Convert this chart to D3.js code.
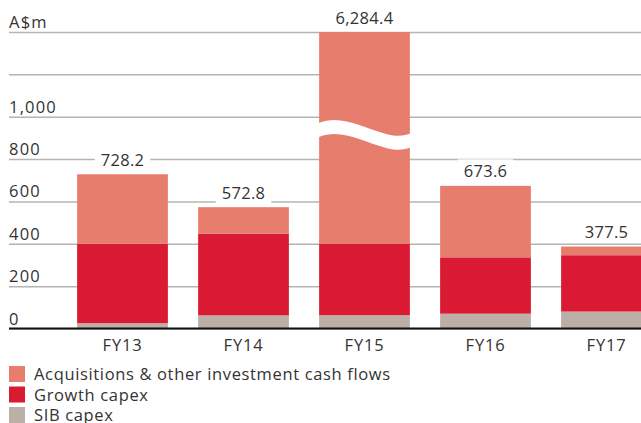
<!DOCTYPE html>
<html>
<head>
<meta charset="utf-8">
<script src="https://cdn.jsdelivr.net/npm/d3@7"></script>
<style>
  body { margin: 0; background: #fff; }
  svg { display: block; font-family: "Open Sans", sans-serif; }
</style>
</head>
<body>
<svg id="chart" width="641" height="423"></svg>
<script>
// data
const years = ['FY13', 'FY14', 'FY15', 'FY16', 'FY17'];
const sibCapex = [25, 62, 63, 70, 80];
const growthCapex = [375, 386, 338, 266, 266];
const acquisitions = [328.2, 124.8, 5883.4, 337.6, 41];
const totalLabels = ['728.2', '572.8', '6,284.4', '673.6', '377.5'];
const yTicks = [0, 200, 400, 600, 800, 1000, 1200, 1400];
const yTickLabels = ['0', '200', '400', '600', '800', '1,000', '', 'A$m'];
const seriesNames = ['Acquisitions & other investment cash flows', 'Growth capex', 'SIB capex'];
const brokenYear = 'FY15';

const colors = { sib: '#bbafa7', growth: '#da1a32', acq: '#e77d6d' };
const textColor = '#333';

const svg = d3.select('#chart');

const rows = years.map((y, i) => ({
    year: y, sib: sibCapex[i], growth: growthCapex[i], acq: acquisitions[i], label: totalLabels[i]
}));

const x = d3.scaleBand()
    .domain(years)
    .range([62, 667])
    .paddingInner(0.25)
    .paddingOuter(0.125);

const y = d3.scaleLinear()
    .domain([0, 1400])
    .range([328.5, 32])
    .clamp(true);

// grid + tick labels
const grid = svg.append('g')
    .attr('transform', 'translate(9,0)')
    .call(d3.axisRight(y)
        .tickValues(yTicks)
        .tickSize(632)
        .tickFormat((d, i) => yTickLabels[i]));
grid.select('.domain').remove();
grid.selectAll('.tick line').attr('stroke', '#b4b4b4').attr('stroke-width', 1.5);
grid.selectAll('.tick text')
    .attr('x', 0)
    .attr('dy', -4.5)
    .attr('text-anchor', 'start')
    .attr('font-size', 16.5)
    .attr('letter-spacing', 1.2)
    .attr('font-family', '"Open Sans", sans-serif')
    .attr('fill', textColor);

// bars
const stack = d3.stack().keys(['sib', 'growth', 'acq']);
const layers = stack(rows);

const barGroup = svg.append('g');
barGroup.selectAll('g')
    .data(layers)
    .join('g')
    .attr('fill', d => colors[d.key])
    .selectAll('rect')
    .data(d => d)
    .join('rect')
    .attr('x', d => x(d.data.year))
    .attr('width', x.bandwidth())
    .attr('y', d => y(d[1]))
    .attr('height', d => y(d[0]) - y(d[1]));

// break mark on the tall bar
const bx = x(brokenYear), bw = x.bandwidth();
const by = y(960);
const wave = d3.path();
wave.moveTo(bx - 1, by - 2);
wave.bezierCurveTo(bx + bw * 0.25, by - 11, bx + bw * 0.45, by + 2, bx + bw * 0.75, by + 9);
wave.bezierCurveTo(bx + bw * 0.88, by + 12, bx + bw * 0.95, by + 10, bx + bw + 1, by + 8);
wave.lineTo(bx + bw + 1, by + 22);
wave.bezierCurveTo(bx + bw * 0.95, by + 24, bx + bw * 0.88, by + 26, bx + bw * 0.75, by + 23);
wave.bezierCurveTo(bx + bw * 0.45, by + 16, bx + bw * 0.25, by + 3, bx - 1, by + 12);
wave.closePath();
svg.append('path').attr('d', wave.toString()).attr('fill', '#fff');

// baseline
svg.append('line')
    .attr('x1', 9).attr('x2', 641)
    .attr('y1', y(0)).attr('y2', y(0))
    .attr('stroke', '#111').attr('stroke-width', 2);

// total labels with white backing
const labels = svg.append('g').selectAll('g')
    .data(rows)
    .join('g')
    .attr('transform', d => `translate(${x(d.year) + x.bandwidth() / 2},${y(d.sib + d.growth + d.acq) - 8.5})`);
labels.append('rect').attr('fill', '#fff');
labels.append('text')
    .attr('text-anchor', 'middle')
    .attr('font-size', 16.5)
    .attr('letter-spacing', 0.3)
    .attr('fill', textColor)
    .text(d => d.label);
labels.each(function() {
    const g = d3.select(this);
    const b = g.select('text').node().getBBox();
    g.select('rect')
        .attr('x', b.x - 6).attr('y', b.y)
        .attr('width', b.width + 12).attr('height', b.height);
});

// x labels
svg.append('g').selectAll('text')
    .data(years)
    .join('text')
    .attr('x', d => x(d) + x.bandwidth() / 2)
    .attr('y', 350.5)
    .attr('text-anchor', 'middle')
    .attr('font-size', 16.5)
    .attr('letter-spacing', 0.8)
    .attr('fill', textColor)
    .text(d => d);

// legend
const legend = svg.append('g').attr('transform', 'translate(9,366)');
const legendColors = [colors.acq, colors.growth, colors.sib];
const item = legend.selectAll('g')
    .data(seriesNames)
    .join('g')
    .attr('transform', (d, i) => `translate(0,${i * 20.5})`);
item.append('rect')
    .attr('width', 16).attr('height', 16)
    .attr('fill', (d, i) => legendColors[i]);
item.append('text')
    .attr('x', 25).attr('y', 14)
    .attr('font-size', 16.5)
    .attr('letter-spacing', 0.65)
    .attr('fill', textColor)
    .text(d => d);
</script>
</body>
</html>
